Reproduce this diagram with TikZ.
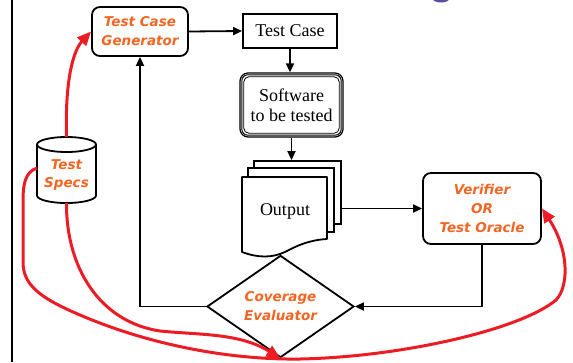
\documentclass[tikz,border=0pt]{standalone}
\usepackage{fontspec}
\setmainfont{Liberation Serif}
\newfontfamily\comic{DejaVu Sans}
\usetikzlibrary{shapes.geometric,arrows.meta}
\definecolor{otext}{HTML}{F26522}
\definecolor{redline}{HTML}{ED1C24}
\definecolor{titlecol}{HTML}{5A4E9E}
\begin{document}
\begin{tikzpicture}[x=1pt,y=-1pt,
  box/.style={draw, line width=1.8pt, fill=white, inner sep=0pt, align=center},
  rbox/.style={box, rounded corners=8pt},
  otxt/.style={text=otext, align=center, font=\comic\bfseries\itshape\fontsize{13.5}{19}\selectfont},
  stxt/.style={font=\fontsize{18}{20}\selectfont},
  sheet/.style={draw, line width=1.8pt, fill=white},
  blk/.style={line width=1.8pt, -{Triangle[length=9pt,width=8pt]}},
  redc/.style={draw=redline, line width=3pt, -{Triangle[length=14pt,width=12pt]}}]
\useasboundingbox (0,0) rectangle (573,362);
% fragment of title glyph and slide frame
\begin{scope}
\clip (0,0) rectangle (573,362);
\fill[titlecol] (441,-1) ellipse [x radius=8, y radius=3.5];
\end{scope}
\draw[line width=2pt] (11.5,0) -- (11.5,362);

% nodes
\node[rbox, otxt, minimum width=96pt, minimum height=49pt] (gen) at (140,31.5) {Test Case\\Generator};
\node[box, stxt, minimum width=94pt, minimum height=34pt] (tc) at (290,31) {Test Case};
\node[rbox, stxt, line width=1.2pt, minimum width=103pt, minimum height=64pt] (sw) at (291.5,105) {Software\\to be tested};
\draw[line width=1pt, rounded corners=6pt] ([shift={(2.4,2.4)}]sw.north west) rectangle ([shift={(-2.4,-2.4)}]sw.south east);
\draw[line width=0.8pt, rounded corners=5pt] ([shift={(4.4,4.4)}]sw.north west) rectangle ([shift={(-4.4,-4.4)}]sw.south east);

% output stack
\node[sheet, minimum width=87pt, minimum height=63pt] (s3) at (297.5,192.5) {};
\node[sheet, minimum width=86pt, minimum height=64pt] (s2) at (291,200) {};
\draw[sheet, line join=round] (242,252) -- (242,177) -- (327,177) -- (327,239)
  .. controls (310,240) and (298,245) .. (285,252)
  .. controls (272,258) and (258,258) .. cycle;
\node[stxt] (out) at (285,211) {Output};

\node[rbox, otxt, minimum width=118pt, minimum height=71pt] (ver) at (482,208.5) {Verifier\\OR\\Test Oracle};
\node[draw, diamond, line width=1.8pt, fill=white, inner sep=0pt, minimum width=147pt, minimum height=79pt, otxt] (cov) at (280.5,306.5) {Coverage\\Evaluator};

% test specs cylinder
\draw[line width=1.8pt, fill=white] (37,144.5) -- (37,195.5) arc[start angle=180, end angle=0, x radius=29.5, y radius=7.5] -- (96,144.5);
\draw[line width=1.8pt, fill=white] (66.5,144.5) ellipse [x radius=29.5, y radius=7.5];
\node[otxt] (specs) at (66.5,175) {Test\\[-0.5pt]Specs};
\coordinate (specT) at (66.5,137);
\coordinate (specL) at (37,168);
\coordinate (specB) at (66.5,203);

% black connectors
\draw[blk] (gen.east) -- (tc.west);
\draw[blk] (tc.south) -- (tc.south |- sw.north);
\draw[blk] (sw.south) -- (sw.south |- s3.north);
\draw[blk] (s3.east |- ver.west) -- (ver.west);
\draw[blk] (ver.south) |- (cov.east);
\draw[blk] (cov.west) -| (gen.south);

% red connectors
\draw[redc] (specT) .. controls (65,85) and (72,52) .. (gen.west);
\draw[redc] (specB) .. controls (66,268) and (100,322) .. (160,331)
  .. controls (200,335) and (240,333) .. (cov.south);
\draw[redc] (specL) .. controls (25,172) and (23,185) .. (23,200) -- (23,262)
  .. controls (23,285) and (40,298) .. (80,315)
  .. controls (150,345) and (230,360) .. (300,359)
  .. controls (400,357) and (520,330) .. (556,300)
  .. controls (570,285) and (568,248) .. (ver.east);
\end{tikzpicture}
\end{document}
